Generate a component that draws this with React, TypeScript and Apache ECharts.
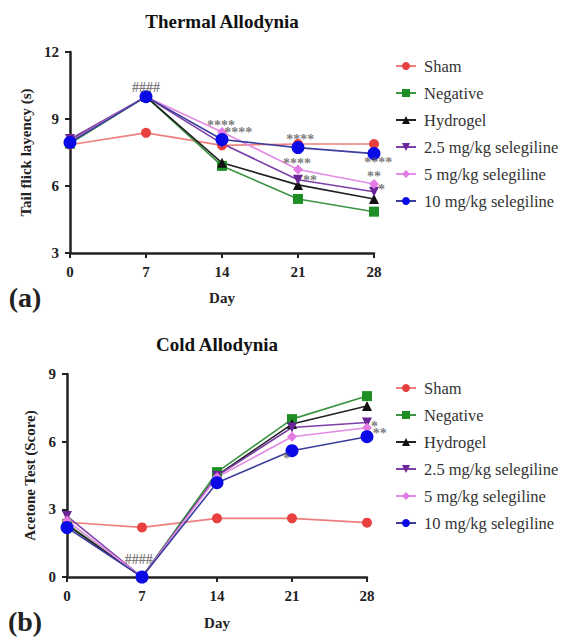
import React, { useEffect, useRef } from "react";
import * as echarts from "echarts";

const days = [0, 7, 14, 21, 28];
const seriesNames = [
  "Sham",
  "Negative",
  "Hydrogel",
  "2.5 mg/kg selegiline",
  "5 mg/kg selegiline",
  "10 mg/kg selegiline",
];

// Thermal allodynia (tail flick latency, s)
const thermalSham = [7.85, 8.38, 7.82, 7.88, 7.88];
const thermalNegative = [7.9, 10.0, 6.9, 5.42, 4.85];
const thermalHydrogel = [8.05, 10.0, 7.04, 6.05, 5.42];
const thermal25 = [8.1, 10.0, 7.9, 6.28, 5.74];
const thermal5 = [8.0, 10.0, 8.42, 6.74, 6.09];
const thermal10 = [7.95, 10.0, 8.08, 7.72, 7.45];

// Cold allodynia (acetone test score)
const coldSham = [2.43, 2.2, 2.6, 2.6, 2.41];
const coldNegative = [2.35, 0, 4.65, 7.0, 8.02];
const coldHydrogel = [2.3, 0, 4.5, 6.78, 7.58];
const cold25 = [2.7, 0, 4.48, 6.63, 6.85];
const cold5 = [2.5, 0, 4.42, 6.22, 6.62];
const cold10 = [2.19, 0, 4.18, 5.6, 6.22];

// Significance annotations: [day, value, text]
const thermalMarks: [number, number, string][] = [
  [7, 10.4, "####"],
  [13.9, 8.72, "****"],
  [15.5, 8.38, "****"],
  [21.2, 8.08, "****"],
  [20.9, 7.01, "****"],
  [22.1, 6.26, "**"],
  [28.4, 7.04, "****"],
  [28.0, 6.41, "**"],
  [28.7, 5.85, "*"],
];
const coldMarks: [number, number, string][] = [
  [6.7, 0.77, "####"],
  [20.5, 5.27, "*"],
  [28.7, 6.68, "*"],
  [29.2, 6.34, "**"],
];

const thermalTicks = { min: 3, max: 12, interval: 3 };
const coldTicks = { min: 0, max: 9, interval: 3 };

const SERIF = "'Times New Roman', Times, 'Liberation Serif', 'DejaVu Serif', serif";

const styles = [
  { symbol: "circle", size: 10, color: "#e8403f", line: "#ee7f7d" },
  { symbol: "rect", size: 10, color: "#1f8f25", line: "#3c9442" },
  { symbol: "triangle", size: 10, color: "#111111", line: "#222222" },
  { symbol: "path://M0,0L10,0L5,9Z", size: 10, color: "#6b2598", line: "#7d3fa8" },
  { symbol: "diamond", size: 10, color: "#e47ae4", line: "#e38ce3" },
  { symbol: "circle", size: 13, color: "#0a0ae6", line: "#3d3d9e" },
];

function buildLines(sets: number[][], idx: number) {
  return sets.map((vals, i) => ({
    type: "line",
    name: seriesNames[i],
    xAxisIndex: idx,
    yAxisIndex: idx,
    data: days.map((d, j) => [d, vals[j]]),
    symbol: styles[i].symbol,
    symbolSize: styles[i].size,
    itemStyle: { color: styles[i].color },
    lineStyle: { color: styles[i].line, width: 1.6 },
    z: 3,
  }));
}

function buildMarks(marks: [number, number, string][], idx: number) {
  return {
    type: "scatter",
    name: "annot" + idx,
    xAxisIndex: idx,
    yAxisIndex: idx,
    data: marks.map((m) => [m[0], m[1], m[2]]),
    symbolSize: 1,
    itemStyle: { color: "transparent" },
    clip: false,
    silent: true,
    z: 5,
    label: {
      show: true,
      position: "inside",
      formatter: (p: any) => p.value[2],
      fontFamily: SERIF,
      fontWeight: "bold",
      fontSize: 14,
      color: "#5a5a5a",
    },
  };
}

function xAxisCfg(gridIndex: number, nameGap: number) {
  return {
    type: "value",
    gridIndex,
    min: 0,
    max: 28,
    interval: 7,
    name: "Day",
    nameLocation: "middle",
    nameGap,
    nameTextStyle: { fontFamily: SERIF, fontWeight: "bold", fontSize: 15, color: "#222" },
    axisLine: { show: true, lineStyle: { color: "#222", width: 2.5 } },
    axisTick: { show: true, length: 5, lineStyle: { color: "#222", width: 2 } },
    axisLabel: { fontFamily: SERIF, fontWeight: "bold", fontSize: 15, color: "#222", margin: 11 },
    splitLine: { show: false },
  };
}

function yAxisCfg(gridIndex: number, ticks: any, name: string, nameGap: number) {
  return {
    type: "value",
    gridIndex,
    ...ticks,
    name,
    nameLocation: "middle",
    nameGap,
    nameTextStyle: { fontFamily: SERIF, fontWeight: "bold", fontSize: 15, color: "#222" },
    axisLine: { show: true, lineStyle: { color: "#222", width: 2.5 } },
    axisTick: { show: true, length: 5, lineStyle: { color: "#222", width: 2 } },
    axisLabel: { fontFamily: SERIF, fontWeight: "bold", fontSize: 15, color: "#222", margin: 11 },
    splitLine: { show: false },
  };
}

function legendCfg(top: number) {
  return {
    orient: "vertical",
    left: 390,
    top,
    data: seriesNames,
    itemWidth: 20,
    itemHeight: 10,
    itemGap: 9,
    textStyle: {
      fontFamily: SERIF,
      fontSize: 16.5,
      color: "#333",
      lineHeight: 18,
      padding: [0, 0, 0, 3],
    },
  };
}

export default function App() {
  const ref = useRef<HTMLDivElement>(null);
  useEffect(() => {
    if (!ref.current) return;
    const chart = echarts.init(ref.current, null, { renderer: "svg" });
    chart.setOption({
      animation: false,
      backgroundColor: "#ffffff",
      textStyle: { fontFamily: SERIF },
      grid: [
        { left: 70, top: 52, width: 304, height: 201 },
        { left: 67, top: 374, width: 300, height: 203 },
      ],
      xAxis: [xAxisCfg(0, 37), xAxisCfg(1, 38)],
      yAxis: [
        yAxisCfg(0, thermalTicks, "Tail flick layency (s)", 32),
        yAxisCfg(1, coldTicks, "Acetone Test (Score)", 27),
      ],
      legend: [legendCfg(52), legendCfg(374)],
      graphic: [
        {
          type: "text",
          x: 222,
          y: 21,
          style: {
            text: "Thermal Allodynia",
            fontFamily: SERIF,
            fontWeight: "bold",
            fontSize: 19,
            fill: "#111",
            align: "center",
            verticalAlign: "middle",
          },
        },
        {
          type: "text",
          x: 217,
          y: 344,
          style: {
            text: "Cold Allodynia",
            fontFamily: SERIF,
            fontWeight: "bold",
            fontSize: 19,
            fill: "#111",
            align: "center",
            verticalAlign: "middle",
          },
        },
        {
          type: "text",
          x: 25,
          y: 297,
          style: {
            text: "(a)",
            fontFamily: SERIF,
            fontWeight: "bold",
            fontSize: 28,
            fill: "#222",
            align: "center",
            verticalAlign: "middle",
          },
        },
        {
          type: "text",
          x: 25,
          y: 621,
          style: {
            text: "(b)",
            fontFamily: SERIF,
            fontWeight: "bold",
            fontSize: 28,
            fill: "#222",
            align: "center",
            verticalAlign: "middle",
          },
        },
      ],
      series: [
        ...buildLines(
          [thermalSham, thermalNegative, thermalHydrogel, thermal25, thermal5, thermal10],
          0
        ),
        ...buildLines([coldSham, coldNegative, coldHydrogel, cold25, cold5, cold10], 1),
        buildMarks(thermalMarks, 0),
        buildMarks(coldMarks, 1),
      ],
    });
    return () => chart.dispose();
  }, []);
  return (
    <div
      ref={ref}
      style={{ position: "absolute", left: 0, top: 0, width: 563, height: 641 }}
    />
  );
}
